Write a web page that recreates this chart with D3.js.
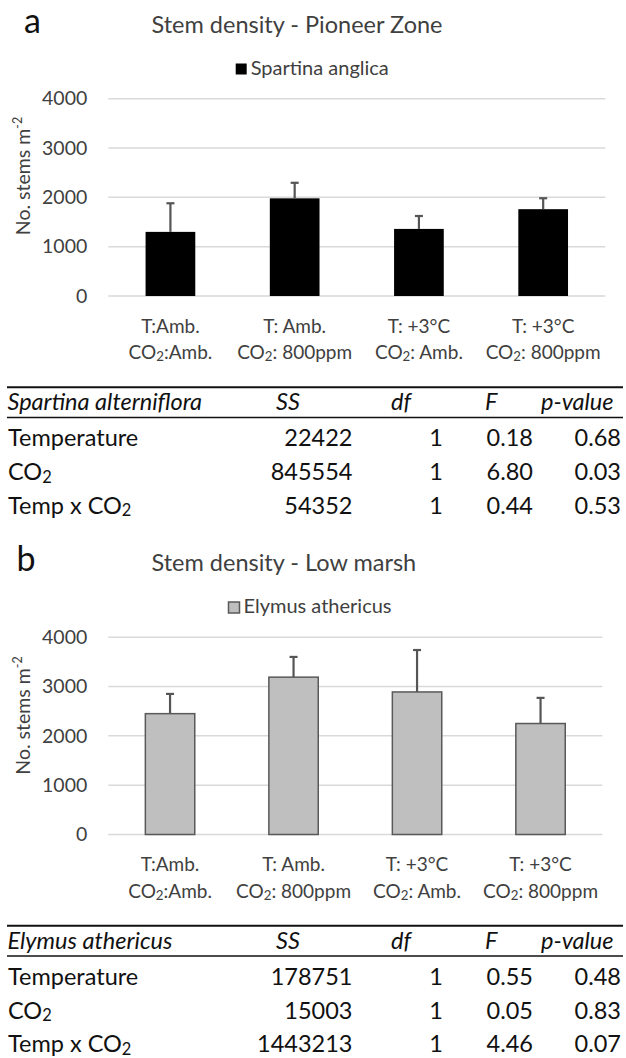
<!DOCTYPE html>
<html><head><meta charset="utf-8">
<script src="https://cdn.jsdelivr.net/npm/d3@7"></script>
<style>
body{margin:0;background:#fff}
svg{display:block}
text{font-family:Lato,'Open Sans',sans-serif}
</style>
</head><body>
<svg id="c" width="626" height="1058"></svg>
<script>
// ---------- data ----------
const catLine1 = ["T:Amb.", "T: Amb.", "T: +3°C", "T: +3°C"];
const catLine2 = ["CO2:Amb.", "CO2: 800ppm", "CO2: Amb.", "CO2: 800ppm"];
const categories = ["c1", "c2", "c3", "c4"];
const yTicks = [0, 1000, 2000, 3000, 4000];

const pioneerValues = [1300, 1980, 1360, 1760];
const pioneerErrors = [580, 315, 262, 222];
const lowMarshValues = [2450, 3190, 2890, 2250];
const lowMarshErrors = [400, 410, 850, 520];

const tableCols = ["SS", "df", "F", "p-value"];
const tableRowLabels = ["Temperature", "CO2", "Temp x CO2"];
const spartinaSS = ["22422", "845554", "54352"];
const spartinaDf = ["1", "1", "1"];
const spartinaF = ["0.18", "6.80", "0.44"];
const spartinaP = ["0.68", "0.03", "0.53"];
const elymusSS = ["178751", "15003", "1443213"];
const elymusDf = ["1", "1", "1"];
const elymusF = ["0.55", "0.05", "4.46"];
const elymusP = ["0.48", "0.83", "0.07"];

// ---------- helpers ----------
const svg = d3.select("#c");

function co2Text(sel, str, fs) {
  const parts = str.split("CO2");
  parts.forEach((p, i) => {
    if (i > 0) {
      sel.append("tspan").text("CO");
      sel.append("tspan").attr("font-size", fs * 0.7).attr("dy", fs * 0.12).text("2");
      sel.append("tspan").attr("dy", -fs * 0.12).text(p);
    } else if (p.length) {
      sel.append("tspan").text(p);
    }
  });
}

function panel(cfg) {
  const g = svg.append("g").attr("transform", `translate(0,${cfg.oy})`);
  const textCol = "#404040";

  // panel letter
  g.append("text").attr("x", cfg.letterX).attr("y", 32.5)
    .attr("font-size", 34).attr("fill", "#111").text(cfg.letter);
  // title
  g.append("text").attr("x", 151.5).attr("y", 32.5)
    .attr("font-size", 23.5).attr("fill", textCol).text(cfg.title);

  // legend
  g.append("rect").attr("x", cfg.legX).attr("y", 63.5).attr("width", 11).attr("height", 11)
    .attr("fill", cfg.fill).attr("stroke", cfg.stroke).attr("stroke-width", cfg.strokeW);
  g.append("text").attr("x", cfg.legX + 15).attr("y", 74.5)
    .attr("font-size", 20).attr("fill", textCol).text(cfg.legend);

  const left = 108.3, right = cfg.right;
  const y = d3.scaleLinear().domain([0, 4000]).range([296, 98.7]);
  const x = d3.scaleBand().domain(categories).range([left, right])
    .paddingInner(0.6).paddingOuter(0.3);

  // gridlines
  g.append("g").selectAll("line").data(yTicks).join("line")
    .attr("x1", left).attr("x2", right)
    .attr("y1", d => y(d)).attr("y2", d => y(d))
    .attr("stroke", "#d9d9d9").attr("stroke-width", 1.5);

  // y axis labels
  const ax = g.append("g").attr("transform", `translate(${left},0)`)
    .call(d3.axisLeft(y).tickValues(yTicks).tickSize(0).tickPadding(21).tickFormat(d3.format("d")));
  ax.select(".domain").remove();
  ax.selectAll("text").attr("font-size", 19.5).attr("fill", textCol)
    .attr("font-family", "Lato,'Open Sans',sans-serif");

  // y axis title
  const yt = g.append("text").attr("transform", `translate(30,${cfg.yTitleY}) rotate(-90)`)
    .attr("text-anchor", "middle").attr("font-size", 19.5).attr("fill", textCol);
  yt.append("tspan").text("No. stems m");
  yt.append("tspan").attr("font-size", 12.5).attr("dy", -8).text("-2");

  // bars
  g.append("g").selectAll("rect").data(cfg.values).join("rect")
    .attr("x", (d, i) => x(categories[i]))
    .attr("width", x.bandwidth())
    .attr("y", d => y(d))
    .attr("height", d => y(0) - y(d))
    .attr("fill", cfg.fill).attr("stroke", cfg.stroke).attr("stroke-width", cfg.strokeW);

  // error bars
  const eg = g.append("g").attr("stroke", "#555").attr("stroke-width", 2.2);
  cfg.values.forEach((v, i) => {
    const cx = x(categories[i]) + x.bandwidth() / 2;
    const top = y(v + cfg.errors[i]);
    eg.append("line").attr("x1", cx).attr("x2", cx).attr("y1", y(v)).attr("y2", top);
    eg.append("line").attr("x1", cx - 4).attr("x2", cx + 4).attr("y1", top).attr("y2", top);
  });

  // x labels
  const xfs = 19;
  categories.forEach((c, i) => {
    const cx = x(c) + x.bandwidth() / 2;
    g.append("text").attr("x", cx).attr("y", 332.7).attr("text-anchor", "middle")
      .attr("font-size", xfs).attr("fill", textCol).text(catLine1[i]);
    const t2 = g.append("text").attr("x", cx).attr("y", 359).attr("text-anchor", "middle")
      .attr("font-size", xfs).attr("fill", textCol);
    co2Text(t2, catLine2[i], xfs);
  });

  // table
  const fs = 23.5;
  g.append("line").attr("x1", 7).attr("x2", 623).attr("y1", 387.3).attr("y2", 387.3)
    .attr("stroke", "#111").attr("stroke-width", 2);
  g.append("line").attr("x1", 7).attr("x2", 623).attr("y1", 417.5).attr("y2", 417.5)
    .attr("stroke", "#111").attr("stroke-width", 1.3);
  const hdrX = [276, 391, 485, 541];
  g.append("text").attr("x", 7.5).attr("y", 410).attr("font-size", fs).attr("font-style", "italic")
    .attr("fill", "#111").text(cfg.tableTitle);
  tableCols.forEach((h, i) => {
    g.append("text").attr("x", hdrX[i]).attr("y", 410).attr("font-size", fs)
      .attr("font-style", "italic").attr("fill", "#111").text(h);
  });
  const rowY = [446, 480, 513.5];
  const colRight = [352.5, 443, 533, 621];
  const cols = [cfg.ss, cfg.df, cfg.f, cfg.p];
  tableRowLabels.forEach((lab, r) => {
    const t = g.append("text").attr("x", 8).attr("y", rowY[r]).attr("font-size", fs).attr("fill", "#111");
    co2Text(t, lab, fs);
    cols.forEach((col, ci) => {
      g.append("text").attr("x", colRight[ci]).attr("y", rowY[r]).attr("text-anchor", "end")
        .attr("font-size", fs).attr("fill", "#111").text(col[r]);
    });
  });
}

panel({
  oy: 0, letter: "a", letterX: 24, title: "Stem density - Pioneer Zone",
  legend: "Spartina anglica", legX: 235.7, fill: "#000", stroke: "none", strokeW: 0,
  right: 605.3, yTitleY: 176, values: pioneerValues, errors: pioneerErrors,
  tableTitle: "Spartina alterniflora", ss: spartinaSS, df: spartinaDf, f: spartinaF, p: spartinaP
});
panel({
  oy: 538.5, letter: "b", letterX: 16.5, title: "Stem density - Low marsh",
  legend: "Elymus athericus", legX: 228.5, fill: "#bfbfbf", stroke: "#595959", strokeW: 1.5,
  right: 602.3, yTitleY: 177, values: lowMarshValues, errors: lowMarshErrors,
  tableTitle: "Elymus athericus", ss: elymusSS, df: elymusDf, f: elymusF, p: elymusP
});
</script>
</body></html>
